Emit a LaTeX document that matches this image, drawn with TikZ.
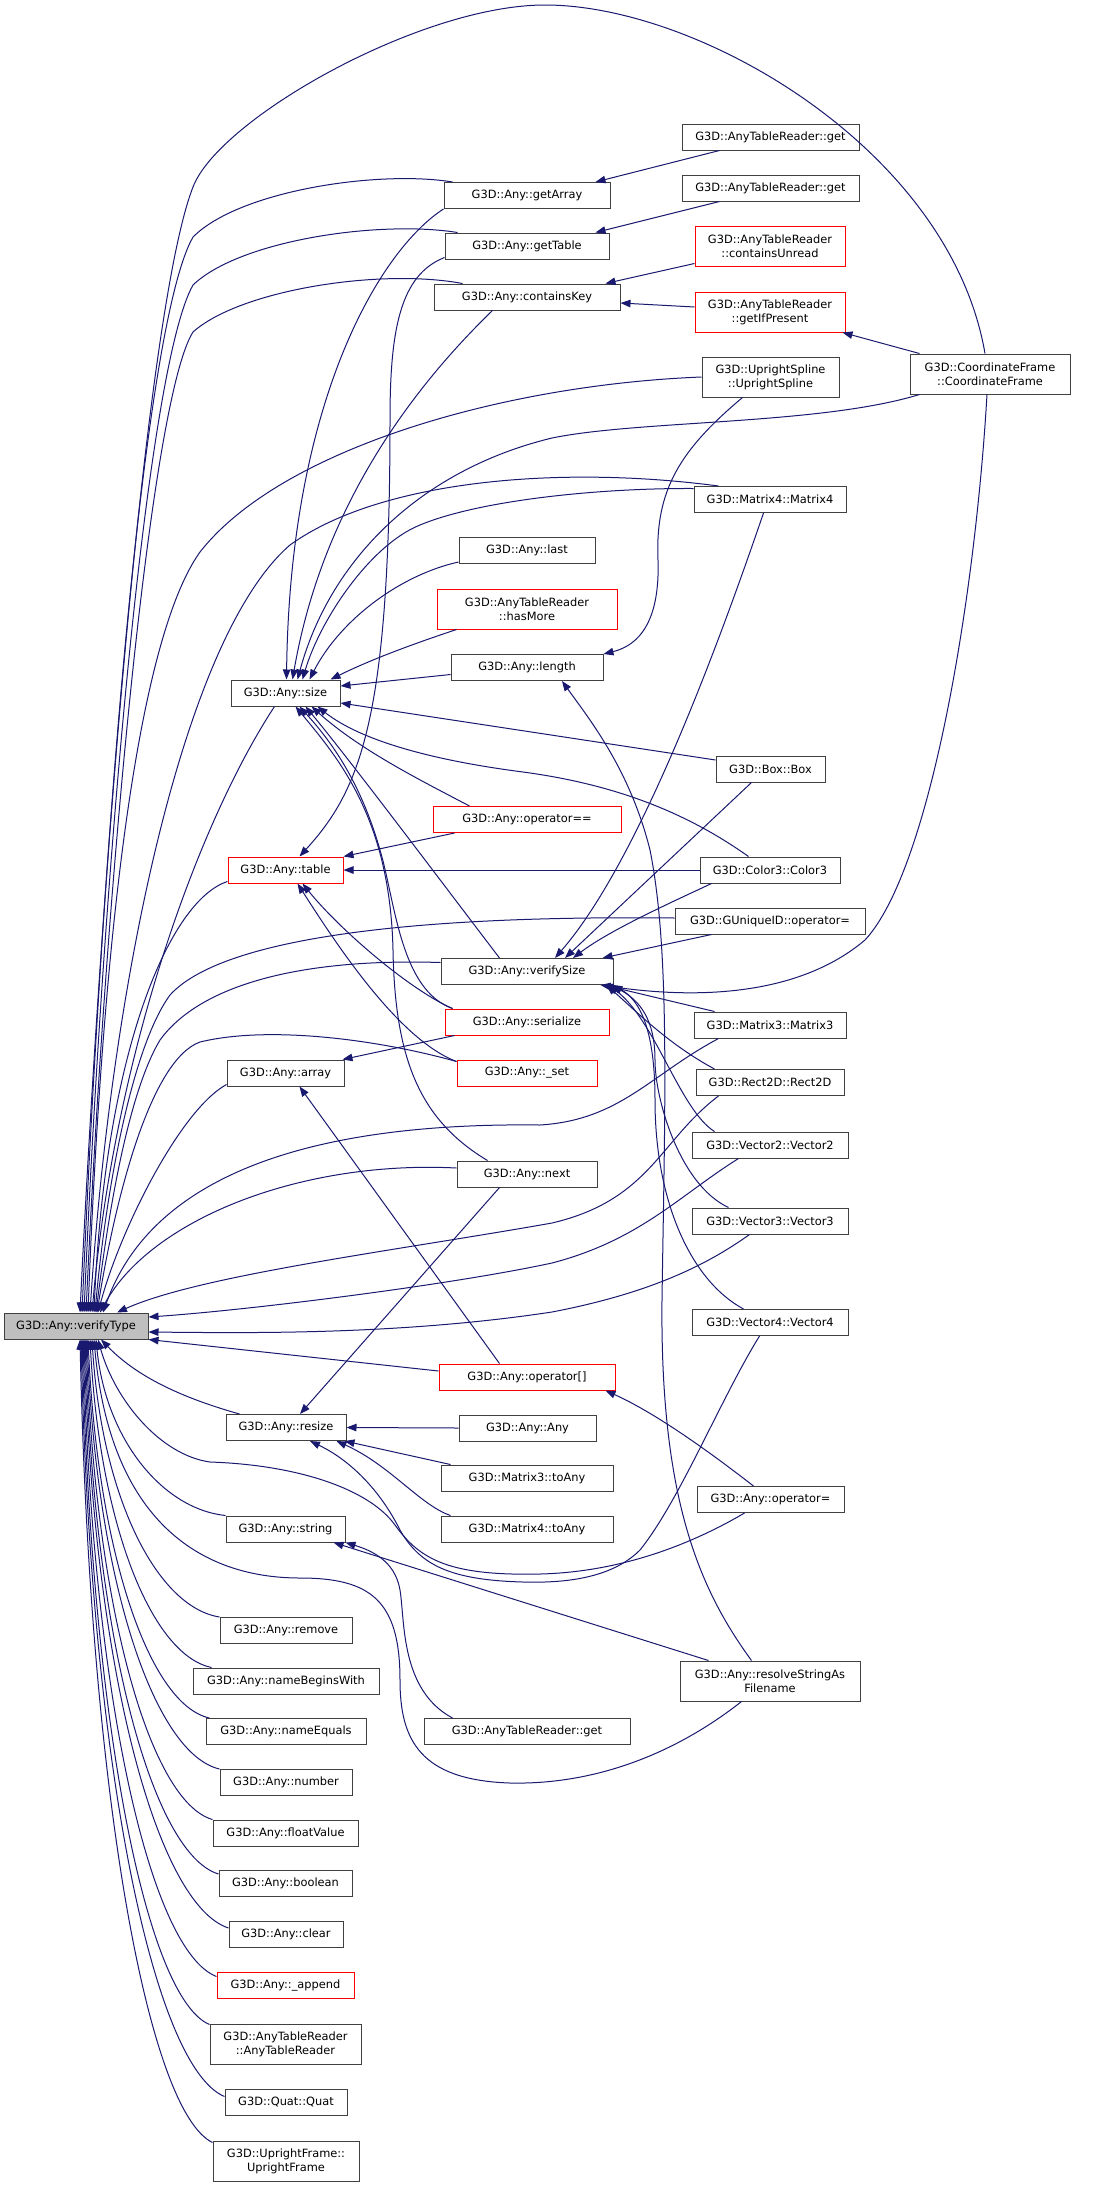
\documentclass[tikz,border=0pt]{standalone}
\usepackage{fontspec}
\setmainfont{DejaVu Sans}
\usetikzlibrary{arrows.meta,calc}

\definecolor{edgeblue}{HTML}{191970}
\definecolor{boxgray}{HTML}{404040}
\definecolor{rootgray}{HTML}{BFBFBF}

\tikzset{
  fn/.style = {draw = boxgray, line width = 1pt, inner sep = 1pt,
    minimum height = 26pt, align = center,
    font = \fontsize{11.4}{14}\selectfont},
  fnred/.style = {fn, draw = red},
  call/.style = {draw = edgeblue, line width = 1pt,
    -{Triangle[length = 10pt, width = 7.5pt]}}
}

\begin{document}
\begin{tikzpicture}[x = 1pt, y = -1pt]
  \useasboundingbox[fill = white] (0,0) rectangle (1104,2187);

  % the function itself
  \node[fn, fill = rootgray, minimum width = 144pt] (vt) at (76,1326) {G3D::Any::verifyType};

  % first column of callers
  \node[fn, minimum width = 109pt] (size) at (285.5,693) {G3D::Any::size};
  \node[fnred, minimum width = 115pt] (table) at (285.5,870) {G3D::Any::table};
  \node[fn, minimum width = 117pt] (array) at (285.5,1073) {G3D::Any::array};
  \node[fn, minimum width = 120pt] (resize) at (286,1427.5) {G3D::Any::resize};
  \node[fn, minimum width = 119pt] (string) at (285.5,1529) {G3D::Any::string};
  \node[fn, minimum width = 132pt] (remove) at (286,1630.5) {G3D::Any::remove};
  \node[fn, minimum width = 186pt] (nbw) at (286,1681) {G3D::Any::nameBeginsWith};
  \node[fn, minimum width = 160pt] (neq) at (286,1731.5) {G3D::Any::nameEquals};
  \node[fn, minimum width = 132pt] (number) at (286,1782.5) {G3D::Any::number};
  \node[fn, minimum width = 145pt] (floatv) at (285.5,1833) {G3D::Any::floatValue};
  \node[fn, minimum width = 133pt] (boolean) at (285.5,1883.5) {G3D::Any::boolean};
  \node[fn, minimum width = 114pt] (clear) at (286,1934.5) {G3D::Any::clear};
  \node[fnred, minimum width = 137pt] (append) at (285.5,1985) {G3D::Any::\_append};
  \node[fn, minimum width = 151pt, minimum height = 40pt] (atrctor) at (285.5,2044) {G3D::AnyTableReader\\::AnyTableReader};
  \node[fn, minimum width = 122pt] (quat) at (286,2102) {G3D::Quat::Quat};
  \node[fn, minimum width = 146pt, minimum height = 40pt] (uframe) at (286,2161) {G3D::UprightFrame::\\UprightFrame};

  % second column
  \node[fn, minimum width = 166pt] (getarray) at (527,195.5) {G3D::Any::getArray};
  \node[fn, minimum width = 164pt] (gettable) at (527,246) {G3D::Any::getTable};
  \node[fn, minimum width = 186pt] (containskey) at (527,297) {G3D::Any::containsKey};
  \node[fn, minimum width = 136pt] (last) at (527,550.5) {G3D::Any::last};
  \node[fnred, minimum width = 180pt, minimum height = 40pt] (hasmore) at (527,609) {G3D::AnyTableReader\\::hasMore};
  \node[fn, minimum width = 152pt] (length) at (527,667.5) {G3D::Any::length};
  \node[fnred, minimum width = 188pt] (opeq) at (527,819.5) {G3D::Any::operator==};
  \node[fn, minimum width = 172pt] (vsize) at (527,971.5) {G3D::Any::verifySize};
  \node[fnred, minimum width = 164pt] (serialize) at (527,1022) {G3D::Any::serialize};
  \node[fnred, minimum width = 140pt] (set) at (527,1073) {G3D::Any::\_set};
  \node[fn, minimum width = 140pt] (next) at (527,1174) {G3D::Any::next};
  \node[fnred, minimum width = 176pt] (opidx) at (527,1377) {G3D::Any::operator[]};
  \node[fn, minimum width = 137pt] (anyany) at (527.5,1428) {G3D::Any::Any};
  \node[fn, minimum width = 172pt] (m3toany) at (527,1478) {G3D::Matrix3::toAny};
  \node[fn, minimum width = 172pt] (m4toany) at (527,1529) {G3D::Matrix4::toAny};
  \node[fn, minimum width = 206pt] (atrget3) at (527,1731.5) {G3D::AnyTableReader::get};

  % third column
  \node[fn, minimum width = 177pt] (atrget1) at (770.5,137) {G3D::AnyTableReader::get};
  \node[fn, minimum width = 177pt] (atrget2) at (770.5,188) {G3D::AnyTableReader::get};
  \node[fnred, minimum width = 150pt, minimum height = 40pt] (cunread) at (770,246) {G3D::AnyTableReader\\::containsUnread};
  \node[fnred, minimum width = 150pt, minimum height = 40pt] (getifp) at (770,312) {G3D::AnyTableReader\\::getIfPresent};
  \node[fn, minimum width = 137pt, minimum height = 40pt] (uspline) at (770.5,377) {G3D::UprightSpline\\::UprightSpline};
  \node[fn, minimum width = 152pt] (m4) at (770,499.5) {G3D::Matrix4::Matrix4};
  \node[fn, minimum width = 109pt] (box) at (770.5,769) {G3D::Box::Box};
  \node[fn, minimum width = 140pt] (color3) at (770,870) {G3D::Color3::Color3};
  \node[fn, minimum width = 190pt] (guid) at (770,921) {G3D::GUniqueID::operator=};
  \node[fn, minimum width = 152pt] (m3) at (770,1025) {G3D::Matrix3::Matrix3};
  \node[fn, minimum width = 148pt] (rect2d) at (770,1082.5) {G3D::Rect2D::Rect2D};
  \node[fn, minimum width = 156pt] (v2) at (770,1145) {G3D::Vector2::Vector2};
  \node[fn, minimum width = 156pt] (v3) at (770,1221) {G3D::Vector3::Vector3};
  \node[fn, minimum width = 156pt] (v4) at (770,1322.5) {G3D::Vector4::Vector4};
  \node[fn, minimum width = 147pt] (opassign) at (770.5,1499.5) {G3D::Any::operator=};
  \node[fn, minimum width = 180pt, minimum height = 40pt] (resolve) at (770,1681) {G3D::Any::resolveStringAs\\Filename};

  % last column
  \node[fn, minimum width = 160pt, minimum height = 40pt] (cframe) at (990,374) {G3D::CoordinateFrame\\::CoordinateFrame};

  % callers reaching verifyType from above
  \draw[call] ($(cframe.north)+(-5,0)$) .. controls (950,150) and (700,5) .. (545,5)
    .. controls (420,5) and (219,119) .. (193,187)
    .. controls (145,310) and (100,900) .. ($(vt.north)+(4,0)$);
  \draw[call] ($(getarray.north west)+(9,0)$) .. controls (380,170) and (240,190) .. (193,237)
    .. controls (140,330) and (100,900) .. ($(vt.north)+(6,0)$);
  \draw[call] ($(gettable.north west)+(13,0)$) .. controls (380,220) and (240,240) .. (193,285)
    .. controls (145,370) and (102,900) .. ($(vt.north)+(8,0)$);
  \draw[call] ($(containskey.north west)+(29,0)$) .. controls (380,268) and (240,290) .. (193,332)
    .. controls (150,400) and (105,900) .. ($(vt.north)+(10,0)$);
  \draw[call] (uspline.west) .. controls (500,385) and (280,450) .. (200,552)
    .. controls (130,650) and (100,1000) .. ($(vt.north)+(12,0)$);
  \draw[call] ($(m4.north west)+(25,0)$) .. controls (560,465) and (380,480) .. (290,545)
    .. controls (180,640) and (110,1000) .. ($(vt.north)+(14,0)$);
  \draw[call] ($(size.south west)+(44,0)$) .. controls (200,820) and (115,1050) .. ($(vt.north)+(16,0)$);
  \draw[call] ($(table.south west)+(0,-2)$) .. controls (170,900) and (105,1050) .. ($(vt.north)+(18,0)$);
  \draw[call] ($(guid.west)+(0,-3)$) .. controls (400,915) and (220,940) .. (170,995)
    .. controls (130,1050) and (105,1200) .. ($(vt.north)+(19,0)$);
  \draw[call] ($(vsize.west)+(0,-9)$) .. controls (300,958) and (200,985) .. (160,1040)
    .. controls (130,1090) and (110,1200) .. ($(vt.north)+(20,0)$);
  \draw[call] ($(set.north west)+(0,2)$) .. controls (380,1040) and (270,1025) .. (200,1042)
    .. controls (150,1060) and (115,1200) .. ($(vt.north)+(21,0)$);
  \draw[call] ($(array.south west)+(0,-2)$) .. controls (180,1110) and (120,1230) .. ($(vt.north)+(22,0)$);
  \draw[call] ($(next.west)+(0,-6)$) .. controls (300,1160) and (150,1220) .. ($(vt.north)+(24,0)$);
  \draw[call] ($(m3.south west)+(25,0)$) .. controls (650,1075) and (620,1120) .. (540,1125)
    .. controls (300,1122) and (150,1180) .. ($(vt.north)+(27,0)$);
  \draw[call] ($(rect2d.south west)+(23,0)$) .. controls (660,1140) and (650,1200) .. (552,1223)
    .. controls (400,1250) and (200,1275) .. ($(vt.north)+(41,0)$);

  % callers reaching verifyType from the right
  \draw[call] ($(v2.south west)+(47,0)$) .. controls (680,1195) and (640,1240) .. (552,1263)
    .. controls (450,1285) and (250,1310) .. ($(vt.east)+(0,-9)$);
  \draw[call] ($(v3.south west)+(58,0)$) .. controls (700,1270) and (640,1295) .. (552,1312)
    .. controls (400,1335) and (250,1333) .. ($(vt.east)+(0,6)$);
  \draw[call] ($(opidx.west)+(0,-6)$) -- (vt.south east);

  % callers reaching verifyType from below
  \draw[call] ($(resize.north west)+(14,0)$) .. controls (190,1400) and (140,1380) .. ($(vt.south)+(25,0)$);
  \foreach \n/\sx/\sy/\ax/\ay/\bx/\by/\dx in {
      string/0/0/163/1509/106/1440/20, remove/0/0/157/1607/102/1498/16,
      nbw/19/0/152/1655/100/1527/14, neq/4/0/150/1705/98/1556/12,
      number/0/0/155/1754/97/1585/11, floatv/0/0/151/1802/96/1614/10,
      boolean/0/4/153/1854/95/1645/9, clear/0/7/158/1905/94/1675/8,
      append/0/5/151/1951/93/1703/7, atrctor/0/1/147/1998/92/1730/6,
      quat/0/8/154/2067/91/1771/5, uframe/0/2/148/2111/90/1797/4}
    \draw[call] ($(\n.north west)+(\sx,\sy)$) .. controls (\ax,\ay) and (\bx,\by) .. ($(vt.south)+(\dx,0)$);
  \draw[call] ($(resolve.south west)+(62,0)$) .. controls (680,1750) and (600,1785) .. (510,1783)
    .. controls (420,1780) and (400,1740) .. (400,1680)
    .. controls (400,1600) and (370,1578) .. (300,1578)
    .. controls (200,1578) and (110,1520) .. ($(vt.south)+(18,0)$);
  \draw[call] ($(opassign.south west)+(48,0)$) .. controls (690,1545) and (620,1572) .. (540,1574)
    .. controls (450,1576) and (420,1560) .. (395,1525)
    .. controls (370,1490) and (300,1465) .. (210,1462)
    .. controls (160,1455) and (115,1400) .. ($(vt.south)+(22,0)$);

  % callers of size
  \draw[call] (getarray.south west) .. controls (380,250) and (290,400) .. ($(size.north)+(1,0)$);
  \draw[call] ($(containskey.south west)+(59,0)$) .. controls (400,400) and (320,520) .. ($(size.north)+(7,0)$);
  \draw[call] ($(cframe.south west)+(10,0)$) .. controls (820,425) and (640,420) .. (552,438)
    .. controls (420,470) and (330,560) .. ($(size.north)+(12,0)$);
  \draw[call] ($(m4.west)+(0,-11)$) .. controls (600,488) and (480,500) .. (420,525)
    .. controls (370,545) and (320,620) .. ($(size.north)+(17,0)$);
  \draw[call] ($(last.south west)+(0,-2)$) .. controls (400,575) and (340,620) .. ($(size.north)+(24,0)$);
  \draw[call] ($(hasmore.south west)+(20,0)$) .. controls (410,645) and (370,660) .. ($(size.north east)+(-10,0)$);
  \draw[call] ($(length.west)+(0,7)$) -- ($(size.east)+(0,-7)$);
  \draw[call] ($(box.west)+(0,-9)$) -- ($(size.east)+(0,10)$);
  \draw[call] ($(color3.north west)+(49,0)$) .. controls (690,815) and (620,785) .. (523,772)
    .. controls (430,760) and (360,740) .. ($(size.south)+(32,0)$);
  \draw[call] ($(opeq.north west)+(37,0)$) .. controls (420,780) and (360,750) .. ($(size.south)+(26,0)$);
  \draw[call] ($(vsize.north west)+(59,0)$) .. controls (440,880) and (350,760) .. ($(size.south)+(20,0)$);
  \draw[call] ($(serialize.north west)+(8,0)$) .. controls (400,990) and (395,900) .. (380,850)
    .. controls (360,780) and (330,740) .. ($(size.south)+(14,0)$);
  \draw[call] ($(next.north west)+(31,0)$) .. controls (420,1120) and (395,1060) .. (393,950)
    .. controls (390,820) and (340,760) .. ($(size.south)+(10,0)$);

  % callers of table
  \draw[call] ($(gettable.south west)+(0,-2)$) .. controls (400,275) and (390,330) .. (390,420)
    .. controls (390,720) and (360,790) .. ($(table.north)+(14,0)$);
  \draw[call] ($(opeq.south west)+(22,0)$) -- (table.north east);
  \draw[call] (color3.west) -- (table.east);
  \draw[call] ($(serialize.north west)+(8,0)$) .. controls (410,990) and (340,930) .. ($(table.south)+(17,0)$);
  \draw[call] ($(set.north west)+(0,2)$) .. controls (400,1040) and (340,950) .. ($(table.south)+(12,0)$);

  % callers of array and resize
  \draw[call] ($(serialize.south west)+(10,0)$) -- ($(array.north east)+(-2,0)$);
  \draw[call] ($(opidx.north west)+(61,0)$) -- ($(array.south)+(14,0)$);
  \draw[call] ($(next.south west)+(43,0)$) -- ($(resize.north)+(14,0)$);
  \draw[call] (anyany.west) -- (resize.east);
  \draw[call] ($(m3toany.north west)+(10,0)$) -- ($(resize.south east)+(-2,0)$);
  \draw[call] ($(m4toany.north west)+(10,0)$) .. controls (420,1505) and (390,1465) .. ($(resize.south east)+(-10,0)$);
  \draw[call] ($(v4.south west)+(68,0)$) .. controls (720,1400) and (680,1500) .. (640,1550)
    .. controls (610,1580) and (560,1583) .. (523,1582)
    .. controls (450,1580) and (420,1565) .. (400,1530)
    .. controls (380,1490) and (350,1460) .. ($(resize.south)+(24,0)$);

  % callers of string
  \draw[call] ($(atrget3.north west)+(29,0)$) .. controls (400,1690) and (405,1620) .. (400,1590)
    .. controls (395,1560) and (370,1550) .. (string.south east);
  \draw[call] ($(resolve.north west)+(29,0)$) -- ($(string.south east)+(-12,0)$);

  % second column called from the third
  \draw[call] ($(atrget1.south west)+(38,0)$) -- ($(getarray.north east)+(-15,0)$);
  \draw[call] ($(atrget2.south west)+(38,0)$) -- ($(gettable.north east)+(-14,0)$);
  \draw[call] ($(cunread.south west)+(0,-3)$) -- ($(containskey.north east)+(-15,0)$);
  \draw[call] ($(getifp.west)+(0,-5)$) -- ($(containskey.east)+(0,6)$);
  \draw[call] ($(cframe.north west)+(10,0)$) -- ($(getifp.south east)+(-3,0)$);
  \draw[call] ($(uspline.south west)+(41,0)$) .. controls (680,450) and (655,490) .. (658,560)
    .. controls (660,620) and (640,645) .. (length.north east);
  \draw[call] ($(resolve.north west)+(72,0)$) .. controls (700,1590) and (660,1500) .. (662,1300)
    .. controls (665,1100) and (670,950) .. (650,850)
    .. controls (630,770) and (590,720) .. ($(length.south)+(35,0)$);
  \draw[call] ($(opassign.north west)+(57,0)$) .. controls (720,1460) and (660,1415) .. ($(opidx.south east)+(-10,0)$);

  % callers of verifySize
  \draw[call] ($(m4.south west)+(70,0)$) .. controls (720,640) and (640,860) .. ($(vsize.north)+(28,0)$);
  \draw[call] ($(box.south west)+(36,0)$) -- ($(vsize.north)+(38,0)$);
  \draw[call] ($(color3.south west)+(12,0)$) .. controls (670,903) and (610,930) .. ($(vsize.north)+(46,0)$);
  \draw[call] ($(guid.south west)+(37,0)$) -- ($(vsize.north east)+(-11,0)$);
  \draw[call] ($(cframe.south)+(-3,0)$) .. controls (975,600) and (930,870) .. (865,940)
    .. controls (800,995) and (700,1000) .. ($(vsize.south east)+(-13,0)$);
  \draw[call] ($(m3.north west)+(21,0)$) -- ($(vsize.south east)+(-10,0)$);
  \draw[call] ($(rect2d.north west)+(19,0)$) .. controls (670,1045) and (640,1015) .. ($(vsize.south east)+(-7,0)$);
  \draw[call] ($(v2.north west)+(23,0)$) .. controls (680,1110) and (655,1020) .. ($(vsize.south east)+(-5,0)$);
  \draw[call] ($(v3.north west)+(37,0)$) .. controls (680,1185) and (655,1100) .. (655,1060)
    .. controls (655,1020) and (640,1000) .. ($(vsize.south east)+(-3,0)$);
  \draw[call] ($(v4.north west)+(52,0)$) .. controls (690,1280) and (655,1200) .. (655,1100)
    .. controls (655,1030) and (640,1000) .. ($(vsize.south east)+(-1,0)$);
\end{tikzpicture}
\end{document}
